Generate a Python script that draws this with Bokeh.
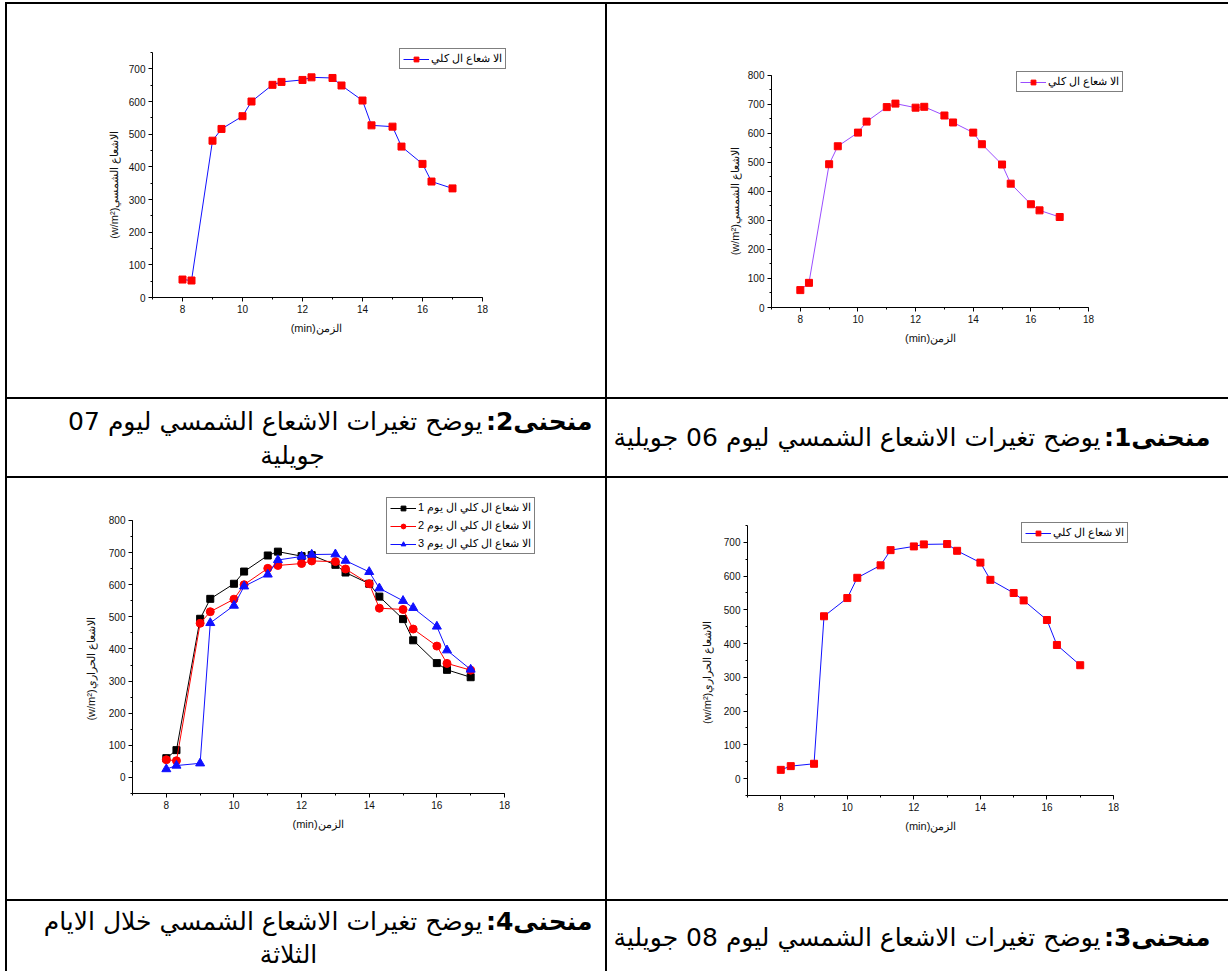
from bokeh.plotting import figure
from bokeh.layouts import row, column
from bokeh.models import Range1d, SingleIntervalTicker, Legend, LegendItem, Div
from bokeh.core.properties import value
from bokeh.embed import file_html
from bokeh.resources import INLINE

# ---------------- data ----------------
hours = [8, 8.3, 9, 9.3, 10, 10.3, 11, 11.3, 12, 12.3, 13, 13.3, 14, 14.3, 15, 15.3, 16, 16.3, 17]
irr_06 = [60, 85, 494, 556, 603, 641, 691, 703, 689, 692, 662, 638, 603, 563, 493, 427, 356, 335, 312]
irr_07 = [55, 52, 480, 516, 555, 600, 651, 660, 666, 674, 672, 649, 603, 527, 523, 462, 409, 355, 334]
irr_08 = [26, 37, 44, 481, 535, 595, 632, 677, 688, 694, 695, 675, 640, 589, 550, 528, 470, 396, 336]

legend_single = "الا شعاع ال كلي"
legend_days = ["الا شعاع ال كلي ال يوم 1", "الا شعاع ال كلي ال يوم 2", "الا شعاع ال كلي ال يوم 3"]
x_label = "(min)الزمن"
y_label_sun = "(w/m²)الاشعاع الشمسي"
y_label_heat = "(w/m²)الاشعاع الحراري"

caption_bold = ["منحنى1:\u200f", "منحنى2:\u200f", "منحنى3:\u200f", "منحنى4:\u200f"]
caption_rest = ["يوضح تغيرات الاشعاع الشمسي ليوم 06 جويلية",
                "يوضح تغيرات الاشعاع الشمسي ليوم 07",
                "يوضح تغيرات الاشعاع الشمسي ليوم 08 جويلية",
                "يوضح تغيرات الاشعاع الشمسي خلال الايام"]
caption_wrap = ["", "جويلية", "", "الثلاثة"]

TICK_FONT = "Liberation Sans"
AR_FONT = "DejaVu Sans"
NBSP = "\u00a0"


def bar(w, h):
    return Div(text="", width=w, height=h, margin=(0, 0, 0, 0),
               styles={"background-color": "black"})


def make_chart(w, h, left, right, top, bottom, xr_end, y0, y_axis1, yr_end,
               series, ylabel, legend_loc, xpad=0, ypad=0, ylab_standoff=6):
    p = figure(width=w, height=h, toolbar_location=None, output_backend="svg",
               x_range=Range1d(7, xr_end), y_range=Range1d(y0, yr_end),
               min_border_left=left, min_border_right=right,
               min_border_top=top, min_border_bottom=bottom,
               outline_line_color=None, background_fill_color="white",
               border_fill_color="white")
    p.grid.visible = False
    items = []
    for ys, lc, mk, mc, sz, lab in series:
        lr = p.line(hours, ys, line_color=lc, line_width=1)
        sr = p.scatter(hours, ys, marker=mk, size=sz, fill_color=mc, line_color=mc)
        items.append(LegendItem(label=lab, renderers=[lr, sr]))
    lg = Legend(items=items, location=legend_loc, padding=3, spacing=5,
                glyph_width=26, glyph_height=12, label_height=12, label_width=20,
                label_standoff=2, label_text_font_size="11px",
                label_text_font=TICK_FONT, label_text_color="black",
                border_line_color="black", border_line_width=1,
                background_fill_color="white", background_fill_alpha=1.0, margin=0)
    p.add_layout(lg)
    p.xaxis.ticker = SingleIntervalTicker(interval=2, num_minor_ticks=2)
    p.yaxis.ticker = SingleIntervalTicker(interval=100, num_minor_ticks=2)
    p.xaxis.bounds = (7, 18)
    p.yaxis.bounds = (y0, y_axis1)
    for ax in (p.xaxis[0], p.yaxis[0]):
        ax.axis_line_color = "black"
        ax.major_tick_line_color = "black"
        ax.minor_tick_line_color = "black"
        ax.major_tick_out = 4
        ax.major_tick_in = 0
        ax.minor_tick_out = 2
        ax.minor_tick_in = 0
        ax.major_label_standoff = 3
        ax.major_label_text_font = TICK_FONT
        ax.major_label_text_font_size = "10px"
        ax.major_label_text_color = "#111111"
        ax.axis_label_text_font = TICK_FONT
        ax.axis_label_text_font_size = "11px"
        ax.axis_label_text_font_style = "normal"
        ax.axis_label_text_color = "#111111"
    p.xaxis.axis_label = x_label + NBSP * xpad
    p.xaxis.axis_label_standoff = 6
    p.yaxis.axis_label = ylabel + NBSP * ypad
    p.yaxis.axis_label_standoff = ylab_standoff
    return p


def make_caption(w, h, idx, x_r, y_main, x_wrap, y_wrap, bold_w, size="25px"):
    p = figure(width=w, height=h, toolbar_location=None, output_backend="svg",
               x_range=Range1d(0, w), y_range=Range1d(h, 0),
               min_border=0, x_axis_location=None, y_axis_location=None,
               outline_line_color=None, background_fill_color="white",
               border_fill_color="white")
    p.grid.visible = False
    p.text(x=[x_r], y=[y_main], text=[caption_bold[idx]], text_font=value(AR_FONT),
           text_font_size=size, text_font_style="bold", text_align="right",
           text_baseline="middle", text_color="black")
    p.text(x=[x_r - bold_w], y=[y_main], text=[caption_rest[idx]], text_font=value(AR_FONT),
           text_font_size=size, text_align="right", text_baseline="middle",
           text_color="black")
    if caption_wrap[idx]:
        p.text(x=[x_wrap], y=[y_wrap], text=[caption_wrap[idx]], text_font=value(AR_FONT),
               text_font_size=size, text_align="center", text_baseline="middle",
               text_color="black")
    return p


# cell sizes (right column runs to the page edge)
WA, WB = 598, 621
H1, H2, H3, H4 = 393, 77, 421, 70
L = 2

chart07 = make_chart(WA, H1, 145, 95, 40, 100, 18.933, 0, 750, 774.5,
                     [(irr_07, "#1010ff", "square", "#ff0000", 7, legend_single)],
                     y_label_sun, (247, 228), xpad=10, ypad=9)
chart06 = make_chart(WB, H1, 164, 93, 66, 90, 19.63, 0, 800, 817.2,
                     [(irr_06, "#9a4dff", "square", "#ff0000", 7, legend_single)],
                     y_label_sun, (245, 215), xpad=15, ypad=8, ylab_standoff=4)
chart_all = make_chart(WA, H3, 125, 53, 17, 106, 19.42, -50, 800, 877.8,
                       [(irr_06, "black", "square", "black", 7, legend_days[0]),
                        (irr_07, "#ff0000", "circle", "#ff0000", 8, legend_days[1]),
                        (irr_08, "#1010ff", "triangle", "#1010ff", 9, legend_days[2])],
                       y_label_heat, (254, 239), xpad=16, ypad=16, ylab_standoff=9)
chart08 = make_chart(WB, H3, 140, 90, 37, 104, 18.752, -50, 750, 779.6,
                     [(irr_08, "#1010ff", "square", "#ff0000", 7, legend_single)],
                     y_label_heat, (274, 252), xpad=8, ypad=11, ylab_standoff=8)

cap2 = make_caption(WA, H2, 1, 585, 22, 285, 56, 110)
cap1 = make_caption(WB, H2, 0, 603, 38, 0, 0, 110)
cap4 = make_caption(WA, H4, 3, 585, 20, 281, 53, 110)
cap3 = make_caption(WB, H4, 2, 603, 36, 0, 0, 110)

TW = L + WA + L + WB


def cell(fig):
    # wrap each figure so that neighbouring plot frames are not aligned
    return column(fig, spacing=0)


def trow(a, b, h):
    return row(bar(L, h), cell(a), bar(L, h), cell(b), spacing=0)


table = column(bar(TW, L), trow(chart07, chart06, H1),
               bar(TW, L), trow(cap2, cap1, H2),
               bar(TW, L), trow(chart_all, chart08, H3),
               bar(TW, L), trow(cap4, cap3, H4), spacing=0)

page = column(Div(text="", width=10, height=2, margin=(0, 0, 0, 0)),
              row(Div(text="", width=5, height=10, margin=(0, 0, 0, 0)), table, spacing=0),
              spacing=0)

open("out.html", "w").write(file_html(page, INLINE))
